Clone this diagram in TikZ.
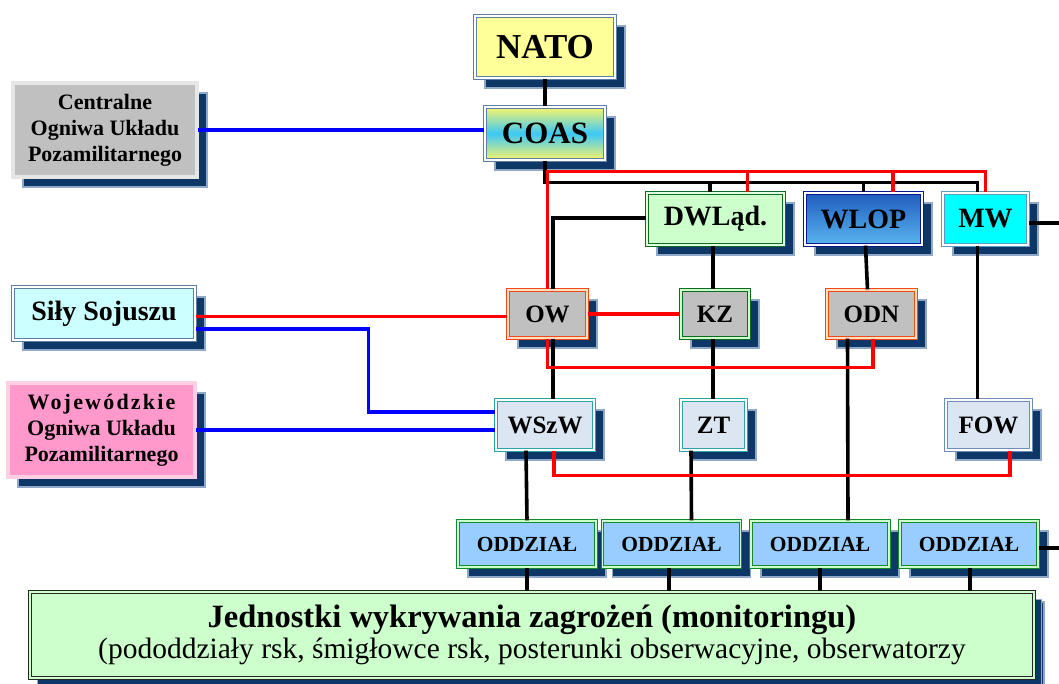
\documentclass[tikz,border=0pt]{standalone}
\usepackage{fontspec}
\setmainfont{Liberation Serif}
\usetikzlibrary{shadows, calc}

\definecolor{shadownavy}{HTML}{0D3766}
\definecolor{shadowedge}{HTML}{8FA8C8}
\definecolor{natoyellow}{HTML}{FFFF99}
\definecolor{steeledge}{HTML}{5E7FA3}
\definecolor{coasyellow}{HTML}{FAF56A}
\definecolor{coascyan}{HTML}{3CC8F5}
\definecolor{silverfill}{HTML}{C0C0C0}
\definecolor{paleedge}{HTML}{E6E6E6}
\definecolor{palecyan}{HTML}{CCFFFF}
\definecolor{pinkfill}{HTML}{FF99CC}
\definecolor{pinkedge}{HTML}{FFD0E4}
\definecolor{palegreen}{HTML}{CCFFCC}
\definecolor{darkgreen}{HTML}{0B6B1E}
\definecolor{wlopdark}{HTML}{1F5CBF}
\definecolor{wloplight}{HTML}{5AB6EE}
\definecolor{wlopedge}{HTML}{0A1A8C}
\definecolor{aquafill}{HTML}{00FFFF}
\definecolor{aquaedge}{HTML}{5B9BC0}
\definecolor{orangeedge}{HTML}{EE4A1A}
\definecolor{lightsteel}{HTML}{DCE6F2}
\definecolor{wszwedge}{HTML}{2AA5A5}
\definecolor{fowedge}{HTML}{6F8CB8}
\definecolor{oddzblue}{HTML}{99CCFF}
\definecolor{oddzedge}{HTML}{138A2E}
\definecolor{linkred}{HTML}{FF0000}
\definecolor{linkblue}{HTML}{0000FF}

\begin{document}
\begin{tikzpicture}[x=1pt, y=-1pt]
    \tikzset{
        unit/.style={rectangle, inner sep=0pt, align=center, font=\bfseries, line width=1.1pt, double=white, double distance=1.3pt,
            drop shadow={opacity=1, fill=shadownavy, draw=shadowedge, line width=1.2pt, shadow xshift=10pt, shadow yshift=-10pt}},
        big/.style={font=\fontsize{28}{30}\selectfont\bfseries},
        mid/.style={font=\fontsize{25}{27}\selectfont\bfseries},
        side/.style={font=\fontsize{22}{26}\selectfont\bfseries},
        blackline/.style={draw=black, line width=3.6pt},
        redline/.style={draw=linkred, line width=3.6pt},
        blueline/.style={draw=linkblue, line width=3.6pt}
    }
    \useasboundingbox (0,0) rectangle (1059,684);

    \node (NATO) [unit, draw=steeledge, fill=natoyellow, minimum width=140, minimum height=62, font=\fontsize{35}{38}\selectfont\bfseries] at (545,47) {NATO};
    \node (COAS) [unit, draw=steeledge, top color=coasyellow, bottom color=coasyellow, middle color=coascyan, minimum width=120, minimum height=53, font=\fontsize{31}{33}\selectfont\bfseries] at (545,133.5) {COAS};
    \node (Central) [unit, side, draw=paleedge, double=paleedge, fill=silverfill, minimum width=184, minimum height=94] at (105,130) {Centralne\\Ogniwa Układu\\Pozamilitarnego};
    \node (Sojusz) [unit, big, draw=steeledge, fill=palecyan, minimum width=182, minimum height=53] at (104,313.5) {Siły Sojuszu};
    \node (Wojew) [unit, side, draw=pinkedge, double=pinkedge, fill=pinkfill, minimum width=187, minimum height=94] at (101.5,430) {{\addfontfeature{LetterSpace=10}Wojewódzkie}\\Ogniwa Układu\\Pozamilitarnego};

    \node (DWLad) [unit, big, draw=darkgreen, double=palegreen!60, fill=palegreen, minimum width=137, minimum height=52] at (715.5,219) {DWLąd.};
    \node (WLOP) [unit, big, draw=wlopedge, top color=wlopdark, bottom color=wloplight, minimum width=117, minimum height=52] at (863.5,219) {WLOP};
    \node (MW) [unit, big, draw=aquaedge, fill=aquafill, minimum width=85, minimum height=52] at (985.5,219) {MW};

    \node (OW) [unit, mid, draw=orangeedge, double=orange!25, fill=silverfill, minimum width=79, minimum height=48] at (547.5,314) {OW};
    \node (KZ) [unit, mid, draw=darkgreen, double=palegreen, fill=silverfill, minimum width=68, minimum height=48] at (715,314) {KZ};
    \node (ODN) [unit, mid, draw=orangeedge, double=orange!25, fill=silverfill, minimum width=89, minimum height=48] at (871.5,314) {ODN};

    \node (WSzW) [unit, mid, draw=wszwedge, fill=lightsteel, minimum width=98, minimum height=50] at (545,425) {WSzW};
    \node (ZT) [unit, mid, draw=wszwedge, fill=lightsteel, minimum width=65, minimum height=50] at (713.5,425) {ZT};
    \node (FOW) [unit, mid, draw=fowedge, fill=lightsteel, minimum width=85, minimum height=50] at (988.5,425) {FOW};

    \node (Odz1) [unit, draw=oddzedge, double=palegreen, fill=oddzblue, minimum width=138, minimum height=46, font=\fontsize{21.5}{23}\selectfont\bfseries] at (527,544) {ODDZIAŁ};
    \node (Odz2) [unit, draw=oddzedge, double=palegreen, fill=oddzblue, minimum width=138, minimum height=46, font=\fontsize{21.5}{23}\selectfont\bfseries] at (671.5,544) {ODDZIAŁ};
    \node (Odz3) [unit, draw=oddzedge, double=palegreen, fill=oddzblue, minimum width=138, minimum height=46, font=\fontsize{21.5}{23}\selectfont\bfseries] at (820,544) {ODDZIAŁ};
    \node (Odz4) [unit, draw=oddzedge, double=palegreen, fill=oddzblue, minimum width=138, minimum height=46, font=\fontsize{21.5}{23}\selectfont\bfseries] at (969,544) {ODDZIAŁ};

    \node (Jednostki) [unit, draw=black!85, double=palegreen, fill=palegreen, minimum width=1004, minimum height=86, font=\mdseries,
        drop shadow={opacity=1, fill=shadownavy, draw=shadowedge, line width=1pt, shadow xshift=7pt, shadow yshift=-7pt}] at (532,635)
        {{\fontsize{32.5}{35}\selectfont\bfseries Jednostki wykrywania zagrożeń (monitoringu)}\\[2pt]
         {\fontsize{29.5}{32}\selectfont (pododdziały rsk, śmigłowce rsk, posterunki obserwacyjne, obserwatorzy}};

    \coordinate (RightEdge) at (1059,0);

    \path [blackline] (NATO) -- (COAS);
    \path [blackline] (COAS.south) -- ++(0,22) -| ([xshift=-8pt]MW.north);
    \path [blackline] ([xshift=-5.5pt]DWLad.north) -- ++(0,-11);
    \path [blackline] (WLOP.north) -- ++(0,-11);
    \path [blackline] ([yshift=1pt]DWLad.west) -| ([xshift=5.5pt]OW.north);
    \path [blackline] ([xshift=5.5pt]OW.south) -- ([xshift=8pt]WSzW.north);
    \path [blackline] ([xshift=-2.5pt]DWLad.south) -- ([xshift=-2pt]KZ.north);
    \path [blackline] ([xshift=-2pt]KZ.south) -- ([xshift=-0.5pt]ZT.north);
    \path [blackline] ([xshift=2pt]WLOP.south) -- ([xshift=-4pt]ODN.north);
    \path [blackline] ([xshift=-8pt]MW.south) -- ([xshift=-11pt]FOW.north);
    \path [blackline] ([yshift=-4pt]MW.east) -- ([yshift=-4pt]MW.east -| RightEdge);
    \path [blackline] ([xshift=-24pt]ODN.south) -- ([xshift=28pt]Odz3.north);
    \path [blackline] ([xshift=-19pt]WSzW.south) -- (Odz1.north);
    \path [blackline] ([xshift=-22.5pt]ZT.south) -- ([xshift=20pt]Odz2.north);
    \path [blackline] ([yshift=-4pt]Odz4.east) -- ([yshift=-4pt]Odz4.east -| RightEdge);
    \path [blackline] (Odz1.south) -- (Odz1.south |- Jednostki.north);
    \path [blackline] ([xshift=-2.5pt]Odz2.south) -- ([xshift=-2.5pt]Odz2.south |- Jednostki.north);
    \path [blackline] (Odz3.south) -- (Odz3.south |- Jednostki.north);
    \path [blackline] ([xshift=1pt]Odz4.south) -- ([xshift=1pt]Odz4.south |- Jednostki.north);

    \path [redline] (OW.north) -- ++(0,-118) -| (MW.north);
    \path [redline] ([xshift=32pt]DWLad.north) -- ++(0,-21);
    \path [redline] ([xshift=29.5pt]WLOP.north) -- ++(0,-21);
    \path [redline] ([yshift=-3pt]Sojusz.east) -- ([yshift=-3pt]Sojusz.east -| OW.west);
    \path [redline] (OW.east) -- (KZ.west);
    \path [redline] (OW.south) -- ++(0,29) -| ([xshift=1.5pt]ODN.south);
    \path [redline] ([xshift=9pt]WSzW.south) -- ++(0,25) -| ([xshift=21.5pt]FOW.south);

    \path [blueline] (Central.east) -- (Central.east -| COAS.west);
    \path [blueline] ([yshift=-15.5pt]Sojusz.east) -- ++(173,0) |- ([yshift=13pt]WSzW.west);
    \path [blueline] (Wojew.east) -- (Wojew.east -| WSzW.west);
\end{tikzpicture}
\end{document}
